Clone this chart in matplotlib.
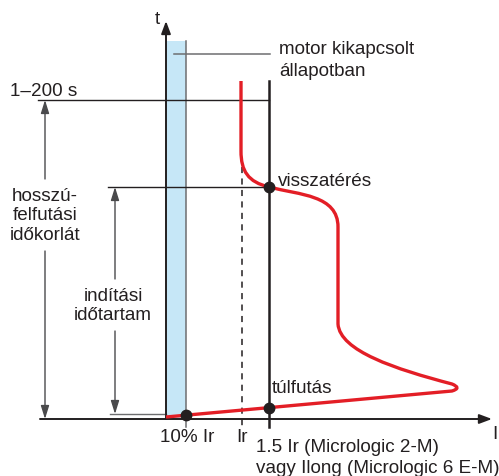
import matplotlib
matplotlib.use("Agg")
import matplotlib.pyplot as plt
from matplotlib.path import Path
from matplotlib.patches import PathPatch, Rectangle

plt.rcParams['font.family'] = ['Liberation Sans', 'DejaVu Sans']

# Diagram coordinates (x grows right, y grows downward)
axis_origin = (166, 420)
x_axis_start = 40
x_axis_end = 492
y_axis_end = 22

band_left, band_right, band_top = 166, 186, 42

x_10pct_ir = 186
x_ir = 242
x_15_ir = 269

t_200s = 101
t_start = 188
t_low = 415

# Tripping curve: vertices with Bezier codes
curve_vertices = [
    (166, 418), (452, 392),
    (462, 389), (452, 385),
    (395, 370), (340, 352), (338, 325),
    (338, 228),
    (338, 196), (300, 196), (269, 188),
    (248, 183), (241, 172), (241, 152),
    (241, 82),
]
curve_codes = [
    Path.MOVETO, Path.LINETO,
    Path.CURVE3, Path.CURVE3,
    Path.CURVE4, Path.CURVE4, Path.CURVE4,
    Path.LINETO,
    Path.CURVE4, Path.CURVE4, Path.CURVE4,
    Path.CURVE4, Path.CURVE4, Path.CURVE4,
    Path.LINETO,
]

dot_points = [(186, 416), (269, 409), (269, 188)]

tick_labels = ["10% Ir", "Ir"]
tick_label_x = [187, 242]

BLACK = "#231f20"
GRAY = "#6d6e70"
SHAFT = "#4a4a4c"
RED = "#e31e26"
BLUE = "#c6e7f7"
FS = 13.6

fig = plt.figure(figsize=(4.99, 4.77), dpi=100)
ax = fig.add_axes([0, 0, 1, 1])
ax.set_xlim(0, 499)
ax.set_ylim(477, 0)
ax.axis('off')

# Shaded band (motor stopped)
ax.add_patch(Rectangle((band_left, band_top), band_right - band_left,
                       axis_origin[1] - band_top, facecolor=BLUE,
                       edgecolor='none', zorder=1))
ax.plot([band_right, band_right], [band_top, 428], color=GRAY, lw=1.1, zorder=2)
ax.plot([174, 270], [55, 55], color=GRAY, lw=1.1, zorder=2)

# Axes with arrowheads
arrow_kw = dict(arrowstyle='-|>,head_length=0.75,head_width=0.28',
                color=BLACK, lw=1.4, shrinkA=0, shrinkB=0)
ax.annotate('', xy=(axis_origin[0], y_axis_end), xytext=(axis_origin[0], axis_origin[1]),
            arrowprops=arrow_kw, zorder=4)
ax.annotate('', xy=(x_axis_end, axis_origin[1]), xytext=(x_axis_start, axis_origin[1]),
            arrowprops=arrow_kw, zorder=4)

# Reference lines
ax.plot([38, x_15_ir], [t_200s, t_200s], color=BLACK, lw=1.0, zorder=3)
ax.plot([108, x_15_ir], [t_start, t_start], color=BLACK, lw=1.0, zorder=3)
ax.plot([110, axis_origin[0]], [t_low, t_low], color=GRAY, lw=1.0, zorder=3)
ax.plot([x_15_ir, x_15_ir], [82, 428], color=BLACK, lw=1.8, zorder=3)
ax.plot([x_ir, x_ir], [168, 428], color=BLACK, lw=1.1, ls=(0, (4, 3.5)), zorder=3)

# Dimension arrows (shaft start -> arrow tip)
dim_kw = dict(arrowstyle='-|>,head_length=0.8,head_width=0.25',
              color=SHAFT, lw=1.0, shrinkA=0, shrinkB=0)
dim_arrows = [
    ((45, 180), (45, t_200s)),
    ((45, 252), (45, axis_origin[1])),
    ((115, 280), (115, t_start)),
    ((115, 332), (115, t_low)),
]
for start, tip in dim_arrows:
    ax.annotate('', xy=tip, xytext=start, arrowprops=dim_kw)

# Tripping curve
ax.add_patch(PathPatch(Path(curve_vertices, curve_codes), facecolor='none',
                       edgecolor=RED, lw=2.4, capstyle='butt', joinstyle='round',
                       zorder=5))
ax.plot([p[0] for p in dot_points], [p[1] for p in dot_points], 'o',
        color=BLACK, ms=7.5, zorder=6)

# Labels
txt = dict(fontsize=FS, color=BLACK)
ax.text(157, 19, "t", ha='center', va='center', **txt)
ax.text(495, 435, "I", ha='center', va='center', **txt)
ax.text(10, 92, "1–200 s", ha='left', va='center', **txt)
ax.text(279, 50, "motor kikapcsolt", ha='left', va='center', **txt)
ax.text(279, 72, "állapotban", ha='left', va='center', **txt)
ax.text(278, 182, "visszatérés", ha='left', va='center', **txt)
ax.text(272, 389, "túlfutás", ha='left', va='center', **txt)
ax.text(45, 216, "hosszú-\nfelfutási\nidőkorlát", ha='center', va='center',
        linespacing=1.2, **txt)
ax.text(113, 306, "indítási\nidőtartam", ha='center', va='center',
        linespacing=1.2, **txt)
for lab, x in zip(tick_labels, tick_label_x):
    ax.text(x, 438, lab, ha='center', va='center', **txt)
ax.text(256, 448, "1.5 Ir (Micrologic 2-M)", ha='left', va='center', **txt)
ax.text(256, 469, "vagy Ilong (Micrologic 6 E-M)", ha='left', va='center', **txt)

fig.savefig("out.png", dpi=100)
